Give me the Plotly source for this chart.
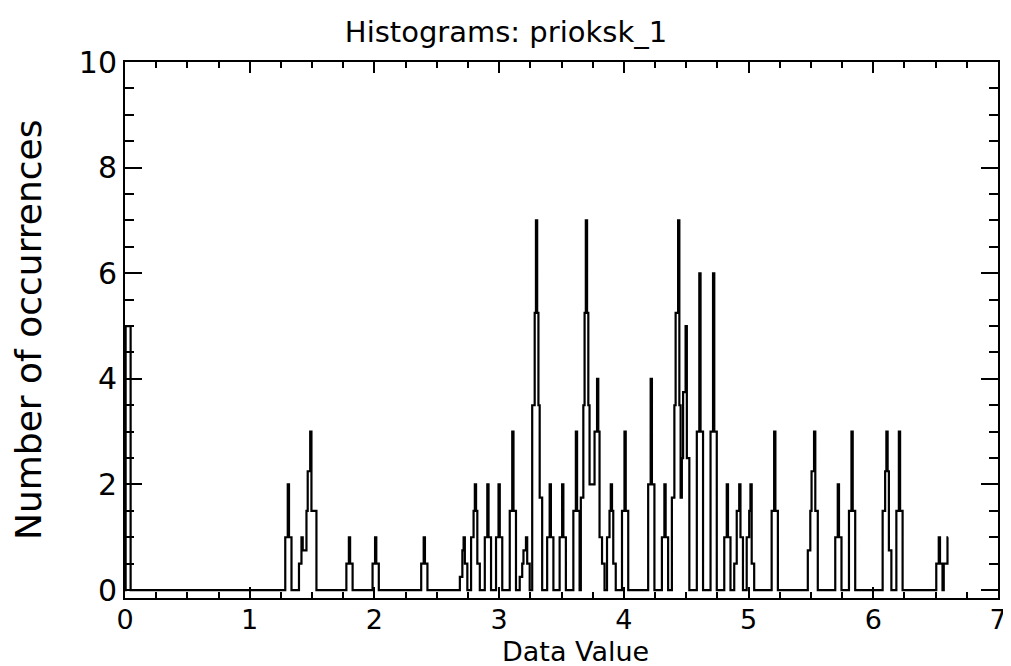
import numpy as np
import plotly.graph_objects as go

# ---- data (histogram counts on a 0.01 grid) ----
bin_width = 0.01
x_min, x_max = 0.0, 6.60

# each entry: first bin position, then the counts of consecutive bins
peak_starts = [0.01, 1.29, 1.40, 1.78, 1.99, 2.38, 2.69, 2.78, 2.89, 2.98,
               3.09, 3.17, 3.27, 3.39, 3.49, 3.60, 3.87, 3.99, 4.20, 4.31,
               4.39, 4.59, 4.70, 4.81, 4.89, 4.99, 5.19, 5.48, 5.70, 5.81,
               6.08, 6.19, 6.51]
peak_levels = [
    [5, 5, 5, 5],
    [1, 1, 2, 1, 1],
    [0.5, 0.5, 1, 0.75, 0.75, 0.75, 1.5, 2.25, 2.25, 3, 1.5, 1.5, 1.5, 1.5],
    [0.5, 0.5, 1, 0.5, 0.5],
    [0.5, 0.5, 1, 0.5, 0.5],
    [0.5, 0.5, 1, 0.5, 0.5],
    [0.25, 0.25, 0.75, 1, 0.5, 0.5],
    [1, 1, 1.5, 2, 1.5, 0.5, 0.5],
    [1, 1, 2, 1, 1],
    [1, 1, 2, 1, 1],
    [1.5, 1.5, 3, 1.5, 1.5],
    [0.25, 0.25, 0.5, 0.75, 0.75, 1, 0.5, 0.5],
    [3.5, 3.5, 5.25, 7, 5.25, 3.5, 1.75, 1.75],
    [1, 1, 2, 1, 1],
    [1, 1, 2, 1, 1],
    [1.5, 1.5, 3, 1.5, 1.5, 0, 1.75, 1.75, 3.5, 5.25, 7, 5.25, 3.5, 2, 2,
     2, 2, 3, 3, 4, 3, 1, 1, 0.5, 0.5],
    [1, 1, 1.5, 2, 1.5, 0.5, 0.5],
    [1.5, 1.5, 3, 1.5, 1.5],
    [2, 2, 4, 2, 2],
    [1, 1, 2, 1, 1],
    [1.75, 1.75, 3.5, 5.25, 5.25, 7, 3.5, 1.75, 2.5, 3.75, 3.75, 5, 2.5, 2.5],
    [3, 3, 6, 3, 3],
    [3, 3, 6, 3, 3],
    [1, 1, 2, 1, 1],
    [0.5, 0.5, 1.5, 1.5, 2, 1, 1],
    [1, 1, 1.5, 2, 0.5, 0.5],
    [1.5, 1.5, 3, 1.5, 1.5],
    [0.75, 0.75, 1.5, 2.25, 2.25, 3, 1.5, 1.5],
    [1, 1, 2, 1, 1],
    [1.5, 1.5, 3, 1.5, 1.5],
    [1.5, 1.5, 2.25, 3, 2.25, 0.75, 0.75],
    [1.5, 1.5, 3, 1.5, 1.5],
    [0.5, 0.5, 1, 0.5, 0.5, 0, 0.5, 0.5, 0.5, 1],
]

title_text = "Histograms: prioksk_1"
x_title = "Data Value"
y_title = "Number of occurrences"
x_tick_vals = [0, 1, 2, 3, 4, 5, 6, 7]
y_tick_vals = [0, 2, 4, 6, 8, 10]

# ---- build the histogram series ----
n = int(round((x_max - x_min) / bin_width)) + 1
xs = x_min + np.arange(n) * bin_width
counts = np.zeros(n)
for start, levels in zip(peak_starts, peak_levels):
    i0 = int(round((start - x_min) / bin_width))
    for j, v in enumerate(levels):
        if i0 + j < n:
            counts[i0 + j] = max(counts[i0 + j], v)

FONT = "DejaVu Sans"
OFF = 8                      # page body margin of the html page
W, H = 1011 - OFF, 666 - OFF
L, T = 125 - OFF, 62 - OFF
PW, PH = 873, 536
R, B = W - L - PW, H - T - PH

fig = go.Figure()
fig.add_trace(go.Scatter(
    x=xs, y=counts, mode="lines",
    line=dict(color="black", width=2.2, shape="hvh"),
    hoverinfo="skip", showlegend=False,
))

axis_common = dict(
    showline=True, linecolor="black", linewidth=2, mirror="ticks",
    ticks="inside", tickcolor="black", tickwidth=2,
    showgrid=False, zeroline=False, automargin=False,
)

fig.update_xaxes(
    range=[0, 7], tickvals=x_tick_vals, ticklen=11,
    minor=dict(dtick=0.25, tick0=0, ticks="inside", ticklen=6,
               tickcolor="black", tickwidth=2, showgrid=False),
    ticklabelstandoff=-3,
    tickfont=dict(family=FONT, size=27, color="black"),
    **axis_common,
)
fig.update_yaxes(
    range=[-0.15, 10], tickvals=y_tick_vals, ticklen=17,
    minor=dict(dtick=0.5, tick0=0, ticks="inside", ticklen=9,
               tickcolor="black", tickwidth=2, showgrid=False),
    ticklabelstandoff=0,
    tickfont=dict(family=FONT, size=30, color="black"),
    **axis_common,
)

# page-pixel positions converted to paper coordinates
fig.add_annotation(
    text=x_title, xref="paper", yref="paper",
    x=(575 - 125) / PW, y=(598 - 651) / PH, xanchor="center", yanchor="middle",
    showarrow=False, font=dict(family=FONT, size=27, color="black"),
)
fig.add_annotation(
    text=y_title, xref="paper", yref="paper",
    x=(28 - 125) / PW, y=(598 - 330) / PH, xanchor="center", yanchor="middle",
    textangle=-90, showarrow=False,
    font=dict(family=FONT, size=36, color="black"),
)

fig.update_layout(
    width=W, height=H,
    margin=dict(l=L, r=R, t=T, b=B),
    paper_bgcolor="white", plot_bgcolor="white",
    title=dict(text=title_text, x=(506 - OFF) / W, xref="container",
               xanchor="center",
               y=1 - (32 - OFF) / H, yref="container", yanchor="middle",
               font=dict(family=FONT, size=29, color="black")),
)

fig.write_html("out.html")
